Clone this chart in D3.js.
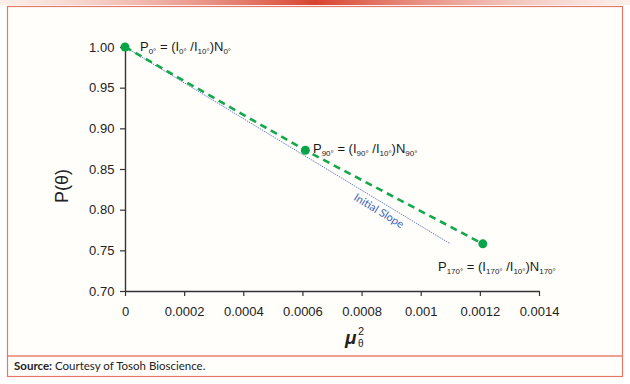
<!DOCTYPE html>
<meta charset="utf-8"/>
<style>
  body { margin: 0; background: #fff; }
  text { font-family: "Liberation Sans", Arial, sans-serif; }
</style>
<svg width="630" height="384"></svg>
<script src="https://cdn.jsdelivr.net/npm/d3@7"></script>
<script>

// data
var muSq   = [0, 0.00061, 0.00121];
var pTheta = [1.00, 0.873, 0.758];
var angles = ["0°", "90°", "170°"];
var slopeX = [0, 0.0011];
var slopeY = [1.00, 0.758];
var xTicks = [0, 0.0002, 0.0004, 0.0006, 0.0008, 0.001, 0.0012, 0.0014];
var xTickLabels = ["0", "0.0002", "0.0004", "0.0006", "0.0008", "0.001", "0.0012", "0.0014"];
var yTicks = [0.70, 0.75, 0.80, 0.85, 0.90, 0.95, 1.00];

var svg = d3.select("svg");

// top gradient strip
var defs = svg.append("defs");
var grad = defs.append("linearGradient").attr("id", "topbar");
grad.append("stop").attr("offset", "0%").attr("stop-color", "#f4c9b8").attr("stop-opacity", 0.3);
grad.append("stop").attr("offset", "50%").attr("stop-color", "#d8432f");
grad.append("stop").attr("offset", "100%").attr("stop-color", "#f4c9b8").attr("stop-opacity", 0.3);
svg.append("rect").attr("x", 0).attr("y", 0).attr("width", 630).attr("height", 5).attr("fill", "url(#topbar)");

// frame
svg.append("rect")
    .attr("x", 7.5).attr("y", 6.5).attr("width", 615).attr("height", 370)
    .attr("fill", "#fffefb").attr("stroke", "#e6786a").attr("stroke-width", 1.2);
svg.append("line").attr("x1", 7).attr("x2", 623).attr("y1", 356).attr("y2", 356)
    .attr("stroke", "#e6806f").attr("stroke-width", 1.6);

var src = svg.append("text").attr("x", 14).attr("y", 370)
    .style("font-family", "Lato, sans-serif").style("font-size", "11.5px").attr("fill", "#222");
src.append("tspan").style("font-weight", "bold").text("Source:");
src.append("tspan").text(" Courtesy of Tosoh Bioscience.");

// scales
var x = d3.scaleLinear().domain([0, 0.0014]).range([125, 539]);
var y = d3.scaleLinear().domain([0.70, 1.00]).range([291, 47]);

var xAxis = svg.append("g").attr("transform", "translate(0," + y(0.70) + ")")
    .call(d3.axisBottom(x).tickValues(xTicks).tickSize(5).tickSizeOuter(0)
        .tickFormat(function(d, i) { return xTickLabels[i]; }));
xAxis.selectAll("text").attr("dy", "1.3em");
var yAxis = svg.append("g").attr("transform", "translate(" + x(0) + ",0)")
    .call(d3.axisLeft(y).tickValues(yTicks).tickSize(5).tickSizeOuter(0).tickFormat(d3.format(".2f")));
yAxis.selectAll("text").attr("dx", "-0.2em");

[xAxis, yAxis].forEach(function(a) {
  a.select(".domain").attr("stroke", "#333").attr("stroke-width", 1.4);
  a.selectAll(".tick line").attr("stroke", "#333").attr("stroke-width", 1.2);
  a.selectAll("text").style("font-size", "13px").attr("fill", "#222")
    .style("font-family", "\"Liberation Sans\", Arial, sans-serif");
});

// axis titles
svg.append("text").attr("transform", "translate(68,186) rotate(-90)")
    .attr("text-anchor", "middle").style("font-size", "18px").attr("fill", "#222").text("P(θ)");

var xt = svg.append("text").attr("x", 345).attr("y", 344)
    .style("font-size", "19px").style("font-weight", "bold").style("font-style", "italic").attr("fill", "#222");
xt.append("tspan").text("μ");
svg.append("text").attr("x", 358).attr("y", 335).style("font-size", "11px").attr("fill", "#222").text("2");
svg.append("text").attr("x", 358).attr("y", 347).style("font-size", "10px").attr("fill", "#222").text("θ");

// initial slope
svg.append("line")
    .attr("x1", x(slopeX[0])).attr("y1", y(slopeY[0]))
    .attr("x2", x(slopeX[1])).attr("y2", y(slopeY[1]))
    .attr("stroke", "#3d5fb8").attr("stroke-width", 0.8).attr("stroke-dasharray", "1.5,1");

var ang = Math.atan2(y(slopeY[1]) - y(slopeY[0]), x(slopeX[1]) - x(slopeX[0])) * 180 / Math.PI;
svg.append("text")
    .attr("transform", "translate(377,214) rotate(" + ang + ")")
    .attr("text-anchor", "middle").style("font-size", "11px").style("font-family", "Lato, sans-serif")
    .attr("fill", "#3d5fb8").text("Initial Slope");

// dashed fit
var line = d3.line().x(function(d, i) { return x(muSq[i]); }).y(function(d, i) { return y(pTheta[i]); });
svg.append("path").datum(muSq).attr("d", line)
    .attr("fill", "none").attr("stroke", "#13a84a").attr("stroke-width", 2.6).attr("stroke-dasharray", "7,5");

svg.selectAll("circle.pt").data(muSq).enter().append("circle")
    .attr("cx", function(d) { return x(d); })
    .attr("cy", function(d, i) { return y(pTheta[i]); })
    .attr("r", 4.5).attr("fill", "#0aa448");

// point labels
var labelPos = [[140, 51], [313, 153], [438, 271]];
angles.forEach(function(a, i) {
  var t = svg.append("text").attr("x", labelPos[i][0]).attr("y", labelPos[i][1])
      .style("font-size", "13px").attr("fill", "#1a1a1a");
  function sub(s) { t.append("tspan").attr("dy", 3).style("font-size", "8px").text(s); }
  function main(s) { t.append("tspan").attr("dy", -3).text(s); }
  t.append("tspan").text("P");
  sub(a);
  main(" = (I");
  sub(a);
  main(" /I");
  sub("10°");
  main(")N");
  sub(a);
});

</script>
